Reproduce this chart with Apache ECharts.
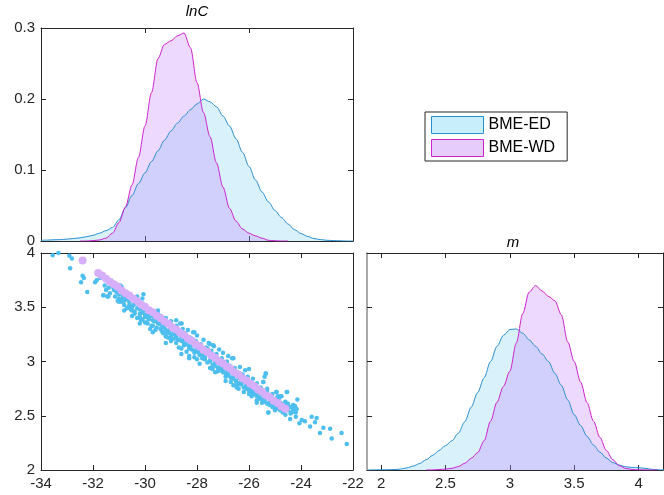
<!DOCTYPE html>
<html>
<head>
<meta charset="utf-8">
<script src="https://cdn.jsdelivr.net/npm/echarts@6/dist/echarts.min.js"></script>
<style>html,body{margin:0;padding:0;background:#fff}#c{width:664px;height:495px}</style>
</head>
<body>
<div id="c"></div>
<script>
// ---- data ----
const seriesNames = ['BME-ED', 'BME-WD'];
const titles = ['lnC', 'm'];
const mTicks = [2, 2.5, 3, 3.5, 4];

// kernel density of lnC
const lnC_ED_x = [-34,-33.75,-33.5,-33.25,-33,-32.75,-32.5,-32.25,-32,-31.75,-31.5,-31.25,-31,-30.75,-30.5,-30.25,-30,-29.75,-29.5,-29.25,-29,-28.75,-28.5,-28.25,-28,-27.75,-27.5,-27.25,-27,-26.75,-26.5,-26.25,-26,-25.75,-25.5,-25.25,-25,-24.75,-24.5,-24.25,-24,-23.75,-23.5,-23.25,-23,-22.75,-22.5,-22.25,-22];
const lnC_ED_d = [0.001,0.0013,0.0017,0.002,0.0027,0.0035,0.0045,0.006,0.008,0.011,0.0145,0.019,0.03,0.047,0.064,0.081,0.096,0.112,0.127,0.142,0.155,0.166,0.176,0.185,0.193,0.2,0.196,0.189,0.176,0.162,0.144,0.125,0.105,0.086,0.069,0.055,0.043,0.033,0.024,0.016,0.0105,0.0065,0.0035,0.002,0.001,0.0006,0.0003,0,0];
const lnC_WD_x = [-32.5,-32.25,-32,-31.75,-31.5,-31.25,-31,-30.75,-30.5,-30.25,-30,-29.75,-29.5,-29.25,-29,-28.75,-28.5,-28.25,-28,-27.75,-27.5,-27.25,-27,-26.75,-26.5,-26.25,-26,-25.75,-25.5,-25.25,-25,-24.75,-24.5];
const lnC_WD_d = [0,0,0.0005,0.0015,0.004,0.011,0.026,0.048,0.079,0.118,0.162,0.209,0.257,0.277,0.282,0.289,0.293,0.272,0.223,0.181,0.147,0.11,0.076,0.046,0.028,0.017,0.011,0.0072,0.004,0.001,0.0003,0,0];

// kernel density of m
const m_ED_x = [1.9,1.95,2,2.05,2.1,2.15,2.2,2.25,2.3,2.35,2.4,2.45,2.5,2.55,2.6,2.65,2.7,2.75,2.8,2.85,2.9,2.95,3,3.05,3.1,3.15,3.2,3.25,3.3,3.35,3.4,3.45,3.5,3.55,3.6,3.65,3.7,3.75,3.8,3.85,3.9,3.95,4,4.05,4.1,4.15,4.2];
const m_ED_d = [0,0.001,0.002,0.003,0.004,0.008,0.02,0.037,0.06,0.095,0.135,0.18,0.225,0.27,0.34,0.445,0.58,0.715,0.85,1.0,1.14,1.24,1.295,1.3,1.26,1.2,1.14,1.07,1.0,0.89,0.78,0.645,0.51,0.41,0.31,0.23,0.165,0.11,0.068,0.045,0.03,0.024,0.021,0.016,0.007,0.002,0];
const m_WD_x = [2.35,2.4,2.45,2.5,2.55,2.6,2.65,2.7,2.75,2.8,2.85,2.9,2.95,3,3.05,3.1,3.15,3.2,3.25,3.3,3.35,3.4,3.45,3.5,3.55,3.6,3.65,3.7,3.75,3.8,3.85,3.9,3.95,4,4.05,4.1,4.15];
const m_WD_d = [0,0.001,0.004,0.008,0.016,0.032,0.062,0.108,0.16,0.27,0.45,0.625,0.77,0.91,1.17,1.44,1.64,1.7,1.65,1.6,1.56,1.43,1.18,1.0,0.81,0.62,0.45,0.3,0.18,0.095,0.04,0.015,0.005,0.002,0.001,0,0];

// posterior samples (lnC, m)
const samples_ED = [
[-33.55,3.98],[-33.33,4.0],[-32.91,3.975],[-32.81,3.95],[-32.88,3.86],[-32.46,3.73],[-32.40,3.79],[-32.35,3.77],[-32.22,3.64],
[-31.92,3.73],[-31.86,3.75],[-31.73,3.77],[-31.60,3.61],[-31.41,3.60],[-31.28,3.74],
[-31.55,3.70],[-31.5,3.66],[-31.4,3.68],[-31.35,3.63],[-31.25,3.69],[-31.15,3.60],[-31.1,3.71],[-31.05,3.56],
[-31.6,3.61],[-31.45,3.6],[-31.3,3.74],[-31.2,3.66],[-31.1,3.64],[-31.0,3.58],[-30.95,3.70],[-30.9,3.55],[-30.85,3.6],[-30.8,3.52],
[-30.75,3.57],[-30.7,3.63],[-30.65,3.5],[-30.6,3.55],[-30.55,3.48],[-30.5,3.6],[-30.5,3.42],[-30.45,3.52],[-30.4,3.46],[-30.35,3.56],
[-30.3,3.40],[-30.25,3.5],[-30.2,3.44],[-30.15,3.38],[-30.1,3.53],[-30.05,3.47],[-30.0,3.41],[-30.06,3.62],
[-29.95,3.36],[-29.9,3.44],[-29.85,3.39],[-29.8,3.48],[-29.75,3.33],[-29.7,3.42],[-29.65,3.37],[-29.6,3.45],[-29.55,3.31],[-29.5,3.39],
[-29.45,3.35],[-29.4,3.42],[-29.35,3.28],[-29.3,3.36],[-29.25,3.32],[-29.2,3.40],[-29.15,3.26],[-29.1,3.34],[-29.05,3.29],[-29.0,3.37],[-29.0,3.22],
[-28.9,3.3],[-28.85,3.25],[-28.8,3.33],[-28.75,3.2],[-28.7,3.28],[-28.65,3.35],[-28.6,3.23],[-28.55,3.3],[-28.5,3.17],[-28.45,3.26],
[-28.4,3.21],[-28.35,3.29],[-28.3,3.14],[-28.25,3.22],[-28.2,3.18],[-28.15,3.27],[-28.1,3.1],[-28.05,3.19],[-28.0,3.13],[-28.0,3.24],[-28.59,3.35],
[-27.9,3.07],[-27.85,3.16],[-27.8,3.11],[-27.75,3.2],[-27.7,3.04],[-27.65,3.13],[-27.6,3.08],[-27.55,3.17],[-27.5,3.0],[-27.45,3.1],
[-27.4,3.05],[-27.35,3.14],[-27.3,2.98],[-27.25,3.07],[-27.2,3.02],[-27.15,3.11],[-27.1,2.95],[-27.05,3.03],[-27.0,2.99],[-27.0,3.08],[-27.37,3.15],[-26.6,3.03],
[-26.9,2.93],[-26.85,3.0],[-26.8,2.88],[-26.75,2.96],[-26.7,2.91],[-26.65,3.03],[-26.6,2.86],[-26.55,2.94],[-26.5,2.82],[-26.45,2.9],
[-26.4,2.85],[-26.35,2.95],[-26.3,2.8],[-26.25,2.88],[-26.2,2.83],[-26.15,2.92],[-26.1,2.77],[-26.05,2.86],[-26.0,2.81],[-26.47,2.76],[-26.35,2.79],
[-25.9,2.74],[-25.85,2.84],[-25.8,2.78],[-25.75,2.7],[-25.7,2.8],[-25.65,2.73],[-25.6,2.66],[-25.55,2.76],[-25.5,2.7],[-25.45,2.81],
[-25.4,2.64],[-25.35,2.89],[-25.3,2.72],[-25.25,2.53],[-25.2,2.67],[-25.15,2.6],[-25.1,2.7],[-25.05,2.63],[-25.0,2.57],
[-24.95,2.72],[-24.9,2.62],[-24.85,2.66],[-24.8,2.58],[-24.75,2.68],[-24.7,2.6],[-24.65,2.55],[-24.6,2.63],[-24.55,2.72],[-24.5,2.57],
[-28.6,3.07],[-28.3,3.03],[-27.9,2.98],[-27.3,2.9],[-26.9,2.82],[-26.6,2.78],[-26.0,2.7],[-25.7,2.62],[-29.2,3.17],[-29.7,3.27],[-30.2,3.35],[-30.8,3.47],
[-30.1,3.58],[-29.5,3.47],[-28.8,3.38],[-28.1,3.27],[-27.5,3.16],[-26.8,3.05],[-26.0,2.93],[-25.4,2.86],
[-31.0,3.62],[-31.0,3.55],[-30.9,3.57],[-30.9,3.69],[-30.8,3.56],[-30.8,3.60],[-30.7,3.49],[-30.7,3.58],[-30.6,3.55],[-30.6,3.52],
[-30.5,3.50],[-30.5,3.47],[-30.4,3.44],[-30.4,3.53],[-30.3,3.49],[-30.3,3.60],[-30.2,3.41],[-30.2,3.48],[-30.1,3.45],[-30.1,3.39],
[-30.0,3.43],[-30.0,3.36],[-29.9,3.41],[-29.9,3.35],[-29.8,3.30],[-29.8,3.42],[-29.7,3.38],[-29.7,3.33],[-29.6,3.37],[-29.6,3.29],
[-29.5,3.35],[-29.5,3.44],[-29.4,3.30],[-29.4,3.34],[-29.3,3.26],[-29.3,3.32],[-29.2,3.29],[-29.2,3.23],[-29.1,3.27],[-29.1,3.22],
[-29.0,3.25],[-29.0,3.19],[-28.9,3.21],[-28.9,3.26],[-28.8,3.23],[-28.8,3.17],[-28.7,3.20],[-28.7,3.13],[-28.6,3.19],[-28.6,3.12],
[-28.5,3.15],[-28.5,3.20],[-28.4,3.16],[-28.4,3.09],[-28.3,3.12],[-28.3,3.05],[-28.2,3.11],[-28.2,3.15],[-28.1,3.08],[-28.1,3.04],
[-28.0,3.09],[-28.0,3.02],[-27.9,3.06],[-27.9,3.10],[-27.8,3.03],[-27.8,3.07],[-27.7,3.02],[-27.7,3.06],[-27.6,2.99],[-27.6,3.12],
[-27.5,3.01],[-27.5,2.94],[-27.4,2.97],[-27.4,2.93],[-27.3,2.96],[-27.3,3.00],[-27.2,2.94],[-27.2,2.91],[-27.1,2.92],[-27.1,2.96],
[-27.0,2.90],[-27.0,2.93],[-26.9,2.89],[-26.9,2.86],[-26.8,2.87],[-26.8,2.91],[-26.7,2.85],[-26.7,2.81],[-26.6,2.84],[-26.6,2.88],
[-26.5,2.82],[-26.5,2.78],[-26.4,2.80],[-26.4,2.75],[-26.3,2.79],[-26.3,2.83],[-26.2,2.76],[-26.2,2.72],[-26.1,2.75],[-26.1,2.79],
[-26.0,2.73],[-26.0,2.76],[-25.9,2.71],[-25.9,2.68],[-25.8,2.70],[-25.8,2.74],[-25.7,2.68],[-25.7,2.64],[-25.6,2.67],[-25.6,2.71],
[-25.5,2.65],[-25.5,2.62],[-25.4,2.63],[-25.4,2.67],[-25.3,2.61],[-25.3,2.75],[-25.2,2.60],[-25.2,2.63],[-25.1,2.58],[-25.1,2.66],
[-25.0,2.59],[-25.0,2.55],[-24.9,2.57],[-24.9,2.68],[-24.8,2.55],[-24.8,2.62],[-24.7,2.57],[-24.7,2.53],[-24.6,2.51],[-24.6,2.60],
[-24.5,2.55],[-24.5,2.61],[-24.4,2.58],[-24.4,2.52],[-24.3,2.56],[-24.3,2.60],[-24.3,2.54],[-24.2,2.57],[-24.2,2.53],[-24.2,2.49],
[-25.36,2.89],[-25.58,2.66],[-25.45,2.81],[-25.26,2.53],[-24.94,2.72],[-24.81,2.68],[-24.68,2.61],[-24.42,2.47],[-24.53,2.72],[-24.14,2.65],
[-24.36,2.53],[-24.23,2.59],[-24.17,2.56],[-24.06,2.43],[-23.97,2.46],[-23.85,2.45],[-23.65,2.40],[-23.59,2.49],[-23.46,2.44],[-23.40,2.48],
[-23.27,2.34],[-23.14,2.39],[-22.88,2.38],[-22.82,2.29],[-22.44,2.34],[-22.24,2.24],[-21.99,2.13]
];
const samples_WD = [
[-32.4,3.93],
[-31.80,3.815],[-31.65,3.792],[-31.50,3.763],[-31.35,3.734],[-31.20,3.713],[-31.05,3.688],[-30.90,3.655],[-30.75,3.630],[-30.60,3.609],
[-30.45,3.578],[-30.30,3.557],[-30.15,3.525],[-30.00,3.504],[-29.85,3.472],[-29.70,3.453],[-29.55,3.421],[-29.40,3.399],[-29.25,3.368],
[-29.10,3.348],[-28.95,3.316],[-28.80,3.295],[-28.65,3.264],[-28.50,3.244],[-28.35,3.212],[-28.20,3.191],[-28.05,3.160],[-27.90,3.139],
[-27.75,3.107],[-27.60,3.087],[-27.45,3.055],[-27.30,3.035],[-27.15,3.003],[-27.00,2.982],[-26.85,2.951],[-26.70,2.930],[-26.55,2.899],
[-26.40,2.879],[-26.25,2.846],[-26.10,2.826],[-25.95,2.794],[-25.80,2.774],[-25.65,2.742],[-25.50,2.722],[-25.35,2.690],[-25.20,2.670],
[-25.05,2.638],[-24.90,2.617],[-24.75,2.585],[-24.60,2.565]
];

// ---- chart ----
const zip = (a, b) => a.map((v, i) => [v, b[i]]);
const FONT = '"Liberation Sans", Arial, Helvetica, sans-serif';
const AX = '#262626';
const lbl = { color: AX, fontSize: 15, fontFamily: FONT };

function ax(grid, pos, min, max, interval, showLabel, extra) {
  return Object.assign({
    type: 'value', gridIndex: grid, position: pos, min, max, interval,
    axisLine: { show: true, onZero: false, lineStyle: { color: AX, width: 1 } },
    axisTick: { show: true, inside: true, length: 5, lineStyle: { color: AX } },
    axisLabel: Object.assign({ show: showLabel, margin: 6, showMinLabel: true, showMaxLabel: true }, lbl),
    splitLine: { show: false }
  }, extra || {});
}

const C_ED_LINE = '#2a8fd0', C_ED_FILL = 'rgba(77,190,238,0.3)';
const C_WD_LINE = '#cc22cc', C_WD_FILL = 'rgba(190,120,250,0.4)';

function density(name, xi, yi, x, d, line, fill) {
  return { name, type: 'line', xAxisIndex: xi, yAxisIndex: yi, data: zip(x, d), showSymbol: false,
    smooth: 0.3, smoothMonotone: 'x',
    lineStyle: { color: line, width: 1 }, itemStyle: { color: line }, areaStyle: { color: fill } };
}

const chart = echarts.init(document.getElementById('c'), null, { renderer: 'canvas' });
chart.setOption({
  animation: false,
  backgroundColor: '#fff',
  textStyle: { fontFamily: FONT },
  grid: [
    { left: 41, top: 28, width: 312, height: 213 },
    { left: 41, top: 253, width: 312, height: 217 },
    { left: 367, top: 253, width: 296, height: 217 }
  ],
  xAxis: [
    ax(0, 'bottom', -34, -22, 4, false),
    ax(0, 'top', -34, -22, 4, false),
    ax(1, 'bottom', -34, -22, 2, true),
    ax(1, 'top', -34, -22, 2, false),
    ax(2, 'bottom', 1.89, 4.19, null, true, {
      axisTick: { show: true, inside: true, length: 5, lineStyle: { color: AX }, customValues: mTicks },
      axisLabel: Object.assign({ show: true, margin: 6, customValues: mTicks, formatter: v => String(v) }, lbl)
    }),
    ax(2, 'top', 1.89, 4.19, null, false, {
      axisTick: { show: true, inside: true, length: 5, lineStyle: { color: AX }, customValues: mTicks }
    })
  ],
  yAxis: [
    ax(0, 'left', 0, 0.3, 0.1, true),
    ax(0, 'right', 0, 0.3, 0.1, false),
    ax(1, 'left', 2, 4, 0.5, true),
    ax(1, 'right', 2, 4, 0.5, false),
    ax(2, 'left', 0, 2, 0.5, false, { axisLine: { show: true, onZero: false, lineStyle: { color: '#8c8c8c', width: 1.5 } } }),
    ax(2, 'right', 0, 2, 0.5, false)
  ],
  legend: {
    orient: 'vertical', left: 425, top: 112,
    padding: [4, 12, 4, 6], itemGap: 5,
    itemWidth: 52, itemHeight: 17,
    borderColor: AX, borderWidth: 1, backgroundColor: '#fff',
    textStyle: { color: '#000', fontSize: 16, fontFamily: FONT },
    data: [
      { name: seriesNames[0], icon: 'rect', itemStyle: { color: '#c8eefb', borderColor: C_ED_LINE, borderWidth: 1 } },
      { name: seriesNames[1], icon: 'rect', itemStyle: { color: '#e6cbfd', borderColor: C_WD_LINE, borderWidth: 1 } }
    ]
  },
  graphic: [
    { type: 'text', x: 197, y: 12, style: { text: titles[0], fontStyle: 'italic', fontSize: 15, fontFamily: FONT, fill: '#000', textAlign: 'center', textVerticalAlign: 'middle' } },
    { type: 'text', x: 513, y: 243, style: { text: titles[1], fontStyle: 'italic', fontSize: 15, fontFamily: FONT, fill: '#000', textAlign: 'center', textVerticalAlign: 'middle' } }
  ],
  series: [
    density(seriesNames[0], 0, 0, lnC_ED_x, lnC_ED_d, C_ED_LINE, C_ED_FILL),
    density(seriesNames[1], 0, 0, lnC_WD_x, lnC_WD_d, C_WD_LINE, C_WD_FILL),
    { name: 'ED samples', type: 'scatter', xAxisIndex: 2, yAxisIndex: 2, data: samples_ED, symbolSize: 4.5,
      itemStyle: { color: '#4dbeee', opacity: 1 } },
    { name: 'WD samples', type: 'scatter', xAxisIndex: 2, yAxisIndex: 2, data: samples_WD, symbolSize: 8,
      itemStyle: { color: '#d7aefa', opacity: 1 } },
    density(seriesNames[0], 4, 4, m_ED_x, m_ED_d, C_ED_LINE, C_ED_FILL),
    density(seriesNames[1], 4, 4, m_WD_x, m_WD_d, C_WD_LINE, C_WD_FILL)
  ]
});
</script>
</body>
</html>
